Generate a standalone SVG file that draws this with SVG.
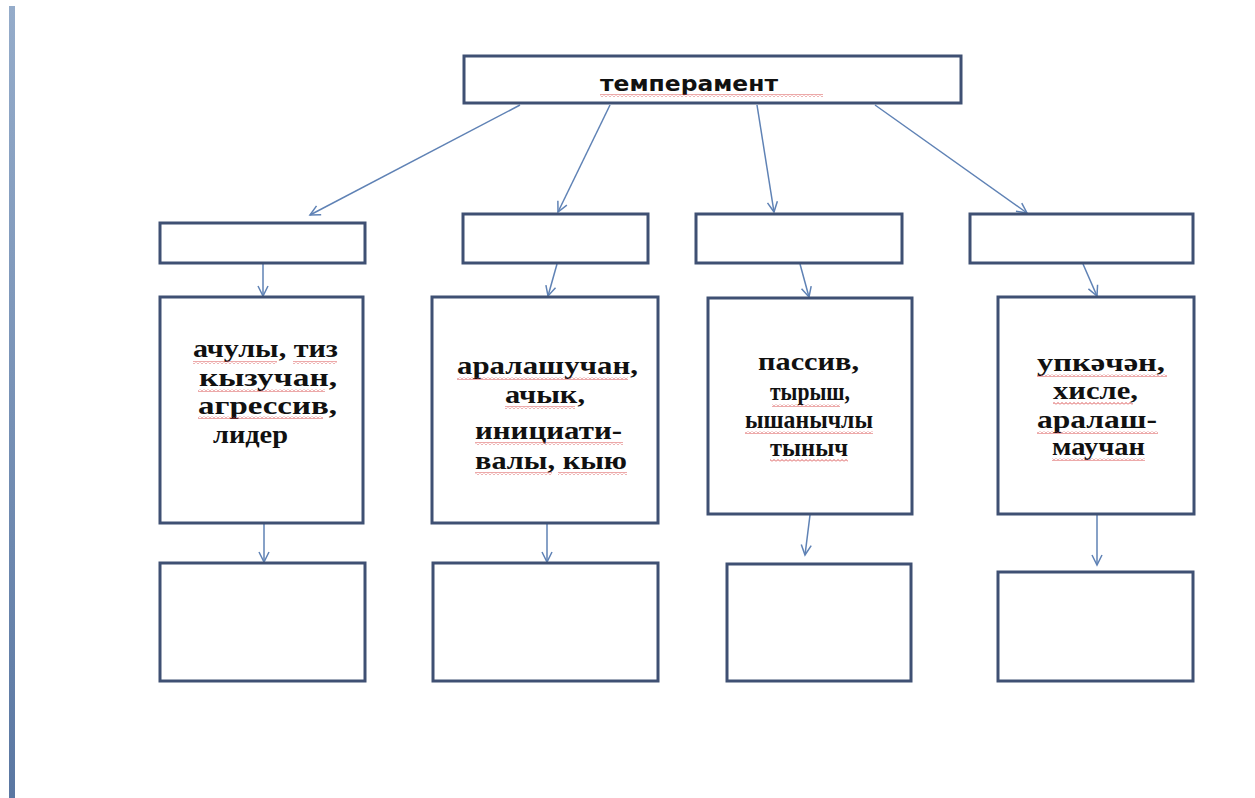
<svg xmlns="http://www.w3.org/2000/svg" width="1255" height="798" viewBox="0 0 1255 798">
<style>
.box{fill:#ffffff;stroke:#3f5073;stroke-width:3}
.con{fill:none;stroke:#5f82b5;stroke-width:1.5}
.t{font-family:"Liberation Serif","Times New Roman",serif;font-weight:bold;font-size:25px;fill:#111}
.h{font-family:"DejaVu Sans","Verdana",sans-serif;font-weight:bold;font-size:22px;fill:#111}
.w{fill:url(#wave)}
</style>
<defs>
<linearGradient id="bar" x1="0" y1="0" x2="0" y2="1">
<stop offset="0" stop-color="#95acca"/>
<stop offset="1" stop-color="#5a77a2"/>
</linearGradient>
<pattern id="wave" width="4" height="3" patternUnits="userSpaceOnUse">
<path d="M0,2.5 L2,0.5 L4,2.5" fill="none" stroke="#d64040" stroke-width="0.9"/>
</pattern>
<marker id="arr" markerWidth="14" markerHeight="14" refX="11" refY="6" orient="auto" markerUnits="userSpaceOnUse">
<path d="M1,1 L11,6 L1,11" fill="none" stroke="#5f82b5" stroke-width="1.5"/>
</marker>
</defs>
<rect width="1255" height="798" fill="#ffffff"/>
<rect x="9" y="6" width="6" height="792" fill="url(#bar)"/>

<g id="connectors">
<line class="con" x1="520" y1="105" x2="310" y2="215" marker-end="url(#arr)"/>
<line class="con" x1="610" y1="105" x2="558" y2="212" marker-end="url(#arr)"/>
<line class="con" x1="757" y1="105" x2="774" y2="212" marker-end="url(#arr)"/>
<line class="con" x1="875" y1="105" x2="1027" y2="213" marker-end="url(#arr)"/>
<line class="con" x1="263" y1="264" x2="263" y2="296" marker-end="url(#arr)"/>
<line class="con" x1="557" y1="264" x2="548" y2="296" marker-end="url(#arr)"/>
<line class="con" x1="800" y1="264" x2="809" y2="297" marker-end="url(#arr)"/>
<line class="con" x1="1083" y1="264" x2="1097" y2="296" marker-end="url(#arr)"/>
<line class="con" x1="264" y1="524" x2="264" y2="562" marker-end="url(#arr)"/>
<line class="con" x1="547" y1="524" x2="547" y2="562" marker-end="url(#arr)"/>
<line class="con" x1="810" y1="515" x2="805" y2="555" marker-end="url(#arr)"/>
<line class="con" x1="1097" y1="515" x2="1097" y2="565" marker-end="url(#arr)"/>
</g>

<g id="top">
<rect class="box" x="464" y="56" width="497" height="47"/>
<text class="h" x="600" y="91" textLength="178" lengthAdjust="spacingAndGlyphs">темперамент</text>
<rect class="w" x="600" y="94" width="223" height="3"/>
</g>

<g id="l2a"><rect class="box" x="160" y="223" width="205" height="40"/></g>
<g id="l2b"><rect class="box" x="463" y="214" width="185" height="49"/></g>
<g id="l2c"><rect class="box" x="696" y="214" width="206" height="49"/></g>
<g id="l2d"><rect class="box" x="970" y="214" width="223" height="49"/></g>

<g id="l3a">
<rect class="box" x="160" y="297" width="203" height="226"/>
<text class="t" x="193" y="357" textLength="145" lengthAdjust="spacingAndGlyphs">ачулы, тиз</text>
<text class="t" x="199" y="386" textLength="138" lengthAdjust="spacingAndGlyphs">кызучан,</text>
<text class="t" x="198" y="414" textLength="139" lengthAdjust="spacingAndGlyphs">агрессив,</text>
<text class="t" x="213" y="443" textLength="75" lengthAdjust="spacingAndGlyphs">лидер</text>
<rect class="w" x="193" y="361" width="84" height="3"/>
<rect class="w" x="293" y="361" width="44" height="3"/>
<rect class="w" x="198" y="389" width="127" height="3"/>
<rect class="w" x="198" y="416" width="125" height="3"/>
</g>

<g id="l3b">
<rect class="box" x="432" y="297" width="226" height="226"/>
<text class="t" x="457" y="374" textLength="181" lengthAdjust="spacingAndGlyphs">аралашучан,</text>
<text class="t" x="505" y="403" textLength="80" lengthAdjust="spacingAndGlyphs">ачык,</text>
<text class="t" x="475" y="439" textLength="147" lengthAdjust="spacingAndGlyphs">инициати-</text>
<text class="t" x="475" y="469" textLength="152" lengthAdjust="spacingAndGlyphs">валы, кыю</text>
<rect class="w" x="457" y="377" width="171" height="3"/>
<rect class="w" x="505" y="406" width="70" height="3"/>
<rect class="w" x="475" y="442" width="148" height="3"/>
<rect class="w" x="475" y="472" width="77" height="3"/>
<rect class="w" x="558" y="472" width="69" height="3"/>
</g>

<g id="l3c">
<rect class="box" x="708" y="298" width="204" height="216"/>
<text class="t" x="758" y="370" textLength="101" lengthAdjust="spacingAndGlyphs">пассив,</text>
<text class="t" x="770" y="400" textLength="80" lengthAdjust="spacingAndGlyphs">тырыш,</text>
<text class="t" x="745" y="428" textLength="128" lengthAdjust="spacingAndGlyphs">ышанычлы</text>
<text class="t" x="770" y="456" textLength="78" lengthAdjust="spacingAndGlyphs">тыныч</text>
<rect class="w" x="772" y="404" width="68" height="3"/>
<rect class="w" x="745" y="431" width="128" height="3"/>
<rect class="w" x="770" y="459" width="78" height="3"/>
</g>

<g id="l3d">
<rect class="box" x="998" y="297" width="196" height="217"/>
<text class="t" x="1037" y="371" textLength="128" lengthAdjust="spacingAndGlyphs">упкәчән,</text>
<text class="t" x="1053" y="399" textLength="85" lengthAdjust="spacingAndGlyphs">хисле,</text>
<text class="t" x="1037" y="428" textLength="120" lengthAdjust="spacingAndGlyphs">аралаш-</text>
<text class="t" x="1052" y="455" textLength="93" lengthAdjust="spacingAndGlyphs">маучан</text>
<rect class="w" x="1037" y="374" width="130" height="3"/>
<rect class="w" x="1053" y="402" width="80" height="3"/>
<rect class="w" x="1037" y="431" width="121" height="3"/>
<rect class="w" x="1052" y="458" width="93" height="3"/>
</g>

<g id="l4a"><rect class="box" x="160" y="563" width="205" height="118"/></g>
<g id="l4b"><rect class="box" x="433" y="563" width="225" height="118"/></g>
<g id="l4c"><rect class="box" x="727" y="564" width="184" height="117"/></g>
<g id="l4d"><rect class="box" x="998" y="572" width="195" height="109"/></g>
</svg>
